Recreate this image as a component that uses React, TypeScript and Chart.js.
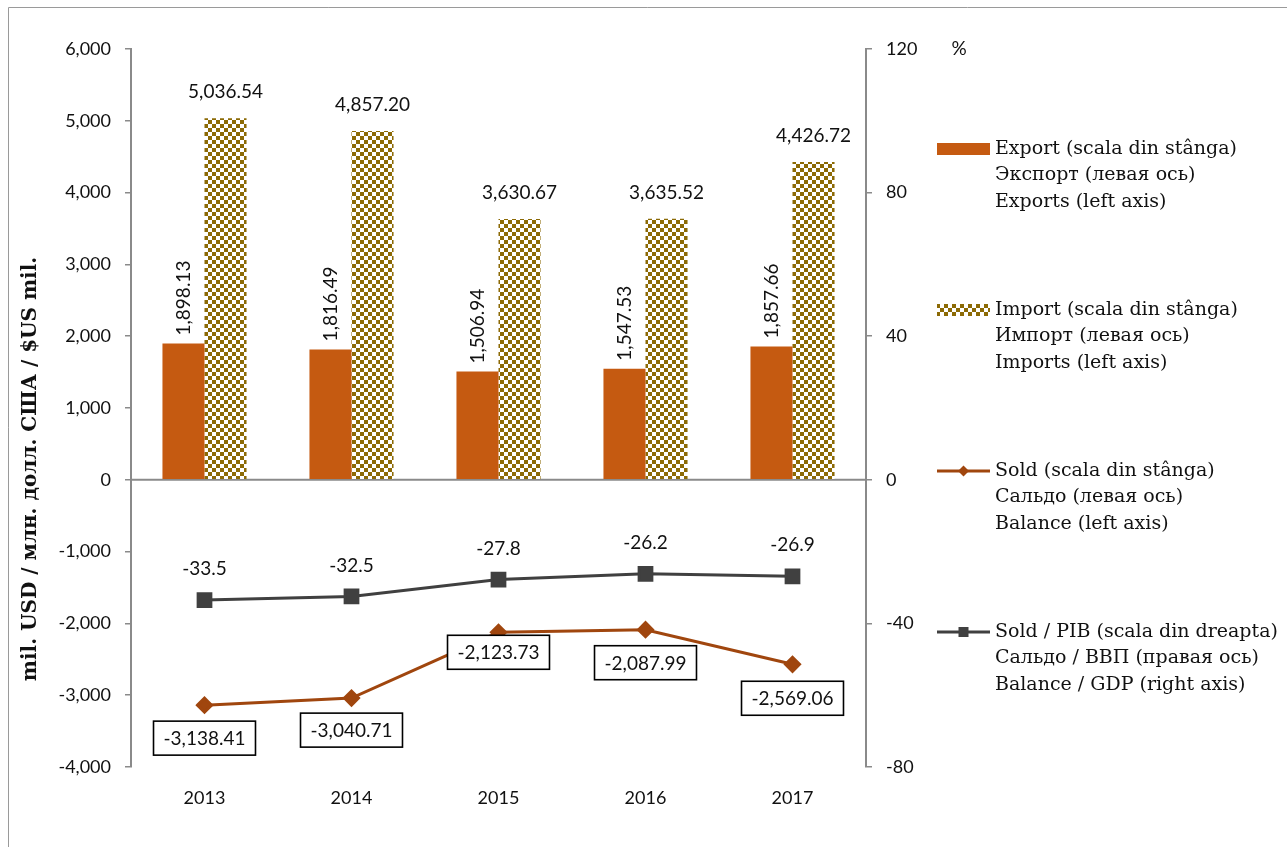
import React, { useEffect, useRef } from "react";
import { Chart, registerables } from "chart.js";

Chart.register(...registerables);

// ---- data ----
const categories = ["2013", "2014", "2015", "2016", "2017"];
const exportValues = [1898.13, 1816.49, 1506.94, 1547.53, 1857.66];
const importValues = [5036.54, 4857.2, 3630.67, 3635.52, 4426.72];
const balanceValues = [-3138.41, -3040.71, -2123.73, -2087.99, -2569.06];
const balanceGdpValues = [-33.5, -32.5, -27.8, -26.2, -26.9];

const exportLabel = ["Export (scala din stânga)", "Экспорт (левая ось)", "Exports (left axis)"];
const importLabel = ["Import (scala din stânga)", "Импорт (левая ось)", "Imports (left axis)"];
const balanceLabel = ["Sold (scala din stânga)", "Сальдо (левая ось)", "Balance (left axis)"];
const balanceGdpLabel = ["Sold / PIB (scala din dreapta)", "Сальдо / ВВП (правая ось)", "Balance / GDP (right axis)"];

const leftAxisTitle = "mil. USD / млн. долл. США / $US mil.";
const rightAxisUnit = "%";

// label layout (vertical offsets of boxed balance labels below points)
const balanceLabelDy = [33, 32, 20, 33, 34];

// ---- styles ----
const EXPORT_COLOR = "#C55A11";
const IMPORT_COLOR = "#8C6A05";
const BALANCE_COLOR = "#A0460E";
const GDP_COLOR = "#404040";
const AXIS_COLOR = "#8A8A8A";
const TEXT_COLOR = "#111111";
const NUM_FONT = "Lato";
const SERIF_FONT = "'DejaVu Serif'";

function fmt2(v: number) {
  return v.toLocaleString("en-US", { minimumFractionDigits: 2, maximumFractionDigits: 2 });
}

function makeChecker(): CanvasPattern | string {
  const c = document.createElement("canvas");
  c.width = 8;
  c.height = 8;
  const g = c.getContext("2d");
  if (!g) return IMPORT_COLOR;
  g.fillStyle = "#ffffff";
  g.fillRect(0, 0, 8, 8);
  g.fillStyle = IMPORT_COLOR;
  g.fillRect(0, 0, 4, 4);
  g.fillRect(4, 4, 4, 4);
  const p = g.createPattern(c, "repeat");
  return p || IMPORT_COLOR;
}

export default function App() {
  const ref = useRef<HTMLCanvasElement | null>(null);

  useEffect(() => {
    if (!ref.current) return;
    const pattern = makeChecker();

    const framePlugin = {
      id: "frame",
      beforeDraw(chart: any) {
        const ctx = chart.ctx;
        ctx.save();
        ctx.fillStyle = "#ffffff";
        ctx.fillRect(0, 0, chart.width, chart.height);
        ctx.strokeStyle = "#9a9a9a";
        ctx.lineWidth = 1;
        ctx.beginPath();
        ctx.moveTo(8.5, chart.height);
        ctx.lineTo(8.5, 7.5);
        ctx.lineTo(chart.width, 7.5);
        ctx.stroke();
        ctx.restore();
      },
      beforeDatasetsDraw(chart: any) {
        const ctx = chart.ctx;
        const y0 = chart.scales.y.getPixelForValue(0);
        const a = chart.chartArea;
        ctx.save();
        ctx.strokeStyle = AXIS_COLOR;
        ctx.lineWidth = 2;
        ctx.beginPath();
        ctx.moveTo(a.left, y0);
        ctx.lineTo(a.right, y0);
        ctx.stroke();
        ctx.restore();
      },
    };

    const labelPlugin = {
      id: "valueLabels",
      afterDatasetsDraw(chart: any) {
        const ctx = chart.ctx;
        ctx.save();
        ctx.fillStyle = TEXT_COLOR;
        ctx.font = `19px ${NUM_FONT}`;
        // export (rotated)
        chart.getDatasetMeta(0).data.forEach((bar: any, i: number) => {
          ctx.save();
          ctx.translate(bar.x, bar.y - 8);
          ctx.rotate(-Math.PI / 2);
          ctx.textAlign = "left";
          ctx.textBaseline = "middle";
          ctx.fillText(fmt2(exportValues[i]), 0, 0);
          ctx.restore();
        });
        // import
        chart.getDatasetMeta(1).data.forEach((bar: any, i: number) => {
          ctx.textAlign = "center";
          ctx.textBaseline = "middle";
          ctx.fillText(fmt2(importValues[i]), bar.x, bar.y - 26);
        });
        // balance / gdp
        chart.getDatasetMeta(3).data.forEach((pt: any, i: number) => {
          ctx.textAlign = "center";
          ctx.textBaseline = "middle";
          ctx.fillText(balanceGdpValues[i].toFixed(1), pt.x, pt.y - 31);
        });
        // balance boxes
        chart.getDatasetMeta(2).data.forEach((pt: any, i: number) => {
          const t = fmt2(balanceValues[i]);
          const w = ctx.measureText(t).width + 20;
          const h = 34;
          const cy = pt.y + balanceLabelDy[i];
          ctx.fillStyle = "#ffffff";
          ctx.fillRect(pt.x - w / 2, cy - h / 2, w, h);
          ctx.strokeStyle = "#000000";
          ctx.lineWidth = 1.6;
          ctx.strokeRect(pt.x - w / 2, cy - h / 2, w, h);
          ctx.fillStyle = TEXT_COLOR;
          ctx.textAlign = "center";
          ctx.textBaseline = "middle";
          ctx.fillText(t, pt.x, cy + 1);
        });
        ctx.restore();
      },
      afterDraw(chart: any) {
        const ctx = chart.ctx;
        ctx.save();
        // axis title
        ctx.fillStyle = TEXT_COLOR;
        ctx.font = `bold 20px ${SERIF_FONT}`;
        ctx.translate(31, 469);
        ctx.rotate(-Math.PI / 2);
        ctx.textAlign = "center";
        ctx.textBaseline = "middle";
        ctx.fillText(leftAxisTitle, 0, 0);
        ctx.restore();

        ctx.save();
        ctx.fillStyle = TEXT_COLOR;
        ctx.font = `19px ${NUM_FONT}`;
        ctx.textAlign = "center";
        ctx.textBaseline = "middle";
        ctx.fillText(rightAxisUnit, 959, chart.chartArea.top);
        ctx.restore();

        // legend
        const ds = chart.data.datasets;
        const sx0 = 937;
        const sx1 = 990;
        const tx = 995;
        const top = 149;
        const gap = 161;
        const lh = 26.5;
        ctx.save();
        ds.forEach((d: any, k: number) => {
          const y = top + k * gap;
          if (d.type === "bar") {
            ctx.fillStyle = d.backgroundColor;
            ctx.fillRect(sx0, y - 6, sx1 - sx0, 12);
          } else {
            ctx.strokeStyle = d.borderColor;
            ctx.lineWidth = 3;
            ctx.beginPath();
            ctx.moveTo(sx0, y);
            ctx.lineTo(sx1, y);
            ctx.stroke();
            ctx.fillStyle = d.pointBackgroundColor;
            const cx = (sx0 + sx1) / 2;
            if (d.pointStyle === "rect") {
              ctx.fillRect(cx - 5, y - 5, 10, 10);
            } else {
              ctx.beginPath();
              ctx.moveTo(cx, y - 5.5);
              ctx.lineTo(cx + 5.5, y);
              ctx.lineTo(cx, y + 5.5);
              ctx.lineTo(cx - 5.5, y);
              ctx.closePath();
              ctx.fill();
            }
          }
          ctx.fillStyle = TEXT_COLOR;
          ctx.font = `19px ${SERIF_FONT}`;
          ctx.textAlign = "left";
          ctx.textBaseline = "middle";
          (d.legendLines as string[]).forEach((line, j) => {
            ctx.fillText(line, tx, y + j * lh);
          });
        });
        ctx.restore();
      },
    };

    const chart = new Chart(ref.current, {
      type: "bar",
      data: {
        labels: categories,
        datasets: [
          {
            type: "bar",
            label: exportLabel.join(" "),
            legendLines: exportLabel,
            data: exportValues,
            backgroundColor: EXPORT_COLOR,
            yAxisID: "y",
            order: 2,
            categoryPercentage: 0.572,
            barPercentage: 1,
          } as any,
          {
            type: "bar",
            label: importLabel.join(" "),
            legendLines: importLabel,
            data: importValues,
            backgroundColor: pattern,
            yAxisID: "y",
            order: 2,
            categoryPercentage: 0.572,
            barPercentage: 1,
          } as any,
          {
            type: "line",
            label: balanceLabel.join(" "),
            legendLines: balanceLabel,
            data: balanceValues,
            borderColor: BALANCE_COLOR,
            backgroundColor: BALANCE_COLOR,
            pointBackgroundColor: BALANCE_COLOR,
            pointBorderColor: BALANCE_COLOR,
            pointStyle: "rectRot",
            pointRadius: 7,
            borderWidth: 3,
            yAxisID: "y",
            order: 0,
          } as any,
          {
            type: "line",
            label: balanceGdpLabel.join(" "),
            legendLines: balanceGdpLabel,
            data: balanceGdpValues,
            borderColor: GDP_COLOR,
            backgroundColor: GDP_COLOR,
            pointBackgroundColor: GDP_COLOR,
            pointBorderColor: GDP_COLOR,
            pointStyle: "rect",
            pointRadius: 9,
            borderWidth: 3,
            yAxisID: "y1",
            order: 1,
          } as any,
        ],
      },
      options: {
        responsive: false,
        animation: false,
        devicePixelRatio: 1,
        layout: { padding: { left: 0, top: 49, right: 361, bottom: 20 } },
        plugins: { legend: { display: false }, tooltip: { enabled: false } },
        scales: {
          x: {
            position: "bottom",
            grid: { display: false },
            border: { display: false },
            ticks: { color: TEXT_COLOR, font: { family: NUM_FONT, size: 18 }, padding: 12 },
            afterFit: (s: any) => {
              s.height = 60;
            },
          },
          y: {
            position: "left",
            min: -4000,
            max: 6000,
            ticks: {
              stepSize: 1000,
              color: TEXT_COLOR,
              font: { family: NUM_FONT, size: 18 },
              padding: 14,
              callback: (v: any) => Number(v).toLocaleString("en-US"),
            },
            grid: { drawOnChartArea: false, drawTicks: true, tickLength: 6, color: AXIS_COLOR, lineWidth: 1.5 },
            border: { display: true, color: AXIS_COLOR, width: 2 },
            afterFit: (s: any) => {
              s.width = 131;
            },
          },
          y1: {
            position: "right",
            min: -80,
            max: 120,
            ticks: {
              stepSize: 40,
              color: TEXT_COLOR,
              font: { family: NUM_FONT, size: 18 },
              padding: 14,
            },
            grid: { drawOnChartArea: false, drawTicks: true, tickLength: 6, color: AXIS_COLOR, lineWidth: 1.5 },
            border: { display: true, color: AXIS_COLOR, width: 2 },
            afterFit: (s: any) => {
              s.width = 60;
            },
          },
        },
      } as any,
      plugins: [framePlugin, labelPlugin],
    });
    return () => chart.destroy();
  }, []);

  return (
    <div style={{ position: "absolute", left: 0, top: 0, width: 1287, height: 847 }}>
      <canvas ref={ref} width={1287} height={847} style={{ width: 1287, height: 847, display: "block" }} />
    </div>
  );
}
